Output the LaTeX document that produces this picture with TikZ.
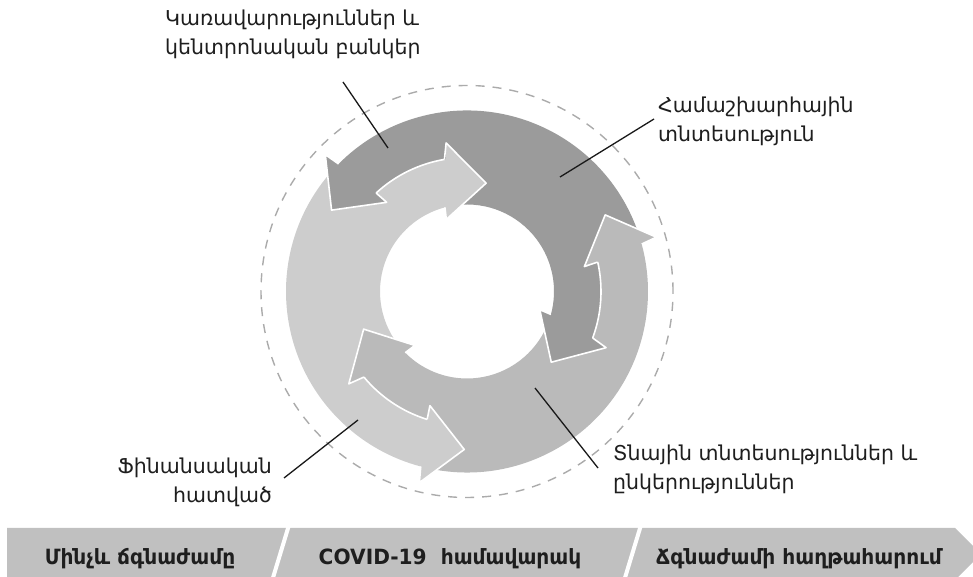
\documentclass[tikz,border=0pt]{standalone}
\usepackage{fontspec}
\newfontfamily\armfont{DejaVu Sans}
\newfontfamily\armbarfont[FakeStretch=0.96]{DejaVu Sans}
\definecolor{dkg}{HTML}{9B9B9B}
\definecolor{mdg}{HTML}{BABABA}
\definecolor{ltg}{HTML}{CDCDCD}
\definecolor{barg}{HTML}{C0C0C0}
\definecolor{dashc}{HTML}{ABABAB}
\definecolor{txtc}{HTML}{1E1E1E}
\tikzset{
  wline/.style={draw=white, line width=1.6pt, line join=round},
  leader/.style={draw=black!90, line width=1.3pt},
  lbl/.style={inner sep=0pt, text=txtc, font=\armfont\fontsize{20.5}{29}\selectfont},
  bartxt/.style={inner sep=0pt, text=txtc, font=\armbarfont\bfseries\fontsize{21}{25}\selectfont},
  dashring/.style={draw=dashc, line width=1.4pt, dash pattern=on 9pt off 8pt},
  sepline/.style={draw=white, line width=4pt},
}
% a = clockwise end (inner-lane head), a+120 = counter-clockwise end (outer-lane head)
\newcommand\ringseg[2]{%
  \pgfmathsetmacro\segA{#1}\pgfmathsetmacro\segB{#1+120}%
  \fill[#2] ({\segA-37}:110) -- ({\segA-19}:150) -- ({\segA-17.3}:134)
    arc[start angle=\segA-17.3, end angle=\segA+20, radius=134]
    -- ({\segA+20}:181)
    arc[start angle=\segA+20, end angle=\segB+18.2, radius=181]
    -- ({\segB+19}:197) -- ({\segB+32}:158) -- ({\segB+15}:120) -- ({\segB+15.7}:134)
    arc[start angle=\segB+15.7, end angle=\segB-20, radius=134]
    -- ({\segB-20}:87)
    arc[start angle=\segB-20, end angle=\segA-12.3, radius=87]
    -- ({\segA-11}:75) -- cycle;}
\newcommand\ringheads[2]{%
  \pgfmathsetmacro\segA{#1}\pgfmathsetmacro\segB{#1+120}%
  \fill[#2] ({\segA-11}:75) -- ({\segA-37}:110) -- ({\segA-19}:150) -- cycle;
  \fill[#2] ({\segB+15}:120) -- ({\segB+32}:158) -- ({\segB+19}:197) -- cycle;}
\newcommand\junctionlines[1]{%
  \pgfmathsetmacro\jA{#1}%
  \draw[wline] ({\jA+15.7}:134) -- ({\jA+15}:120) -- ({\jA+32}:158) -- ({\jA+19}:197) -- ({\jA+18.2}:181);
  \draw[wline] ({\jA-17.3}:134) -- ({\jA-19}:150) -- ({\jA-37}:110) -- ({\jA-11}:75) -- ({\jA-12.3}:87);
  \draw[wline] ({\jA-17.3}:134) arc[start angle=\jA-17.3, end angle=\jA+15.7, radius=134];}
\begin{document}
\begin{tikzpicture}[x=1pt,y=1pt]
\useasboundingbox (0,0) rectangle (973,577);
% ring
\begin{scope}[shift={(467,285.5)}]
  \draw[dashring] (0,0) circle[radius=206];
  \ringseg{117}{ltg}
  \ringseg{237}{mdg}
  \ringseg{-3}{dkg}
  \ringheads{117}{ltg}
  \ringheads{237}{mdg}
  \ringheads{-3}{dkg}
  \junctionlines{117}
  \junctionlines{237}
  \junctionlines{-3}
\end{scope}
% labels (anchor = baseline of the last line)
\node[lbl, anchor=base west, align=left] (t1) at (165,522) {Կառավարություններ և\\կենտրոնական բանկեր};
\node[lbl, anchor=base west, align=left] (t2) at (658,435) {Համաշխարհային\\տնտեսություն};
\node[lbl, anchor=base west, align=left] (t3) at (613,87) {Տնային տնտեսություններ և\\ընկերություններ};
\node[lbl, anchor=base east, align=right] (t4) at (272,74) {Ֆինանսական\\հատված};
% leaders
\coordinate (l1s) at (343,495); \coordinate (l1e) at (388,429);
\coordinate (l2s) at (654,458); \coordinate (l2e) at (560,400);
\coordinate (l3s) at (535,189); \coordinate (l3e) at (598,109);
\coordinate (l4s) at (358,157); \coordinate (l4e) at (284,99);
\draw[leader] (l1s) -- (l1e);
\draw[leader] (l2s) -- (l2e);
\draw[leader] (l3s) -- (l3e);
\draw[leader] (l4s) -- (l4e);
% bottom bar
\fill[barg] (7,49) -- (955,49) -- (981,23) -- (955,-3) -- (7,-3) -- cycle;
\coordinate (s1t) at (289,52); \coordinate (s1b) at (272,-4);
\coordinate (s2t) at (641,52); \coordinate (s2b) at (624,-4);
\draw[sepline] (s1t) -- (s1b);
\draw[sepline] (s2t) -- (s2b);
\node[bartxt, anchor=base] (b1) at (140,12) {Մինչև ճգնաժամը};
\node[bartxt, anchor=base] (b2) at (450,12) {COVID-19 \ համավարակ};
\node[bartxt, anchor=base] (b3) at (799,12) {Ճգնաժամի հաղթահարում};
\end{tikzpicture}
\end{document}
